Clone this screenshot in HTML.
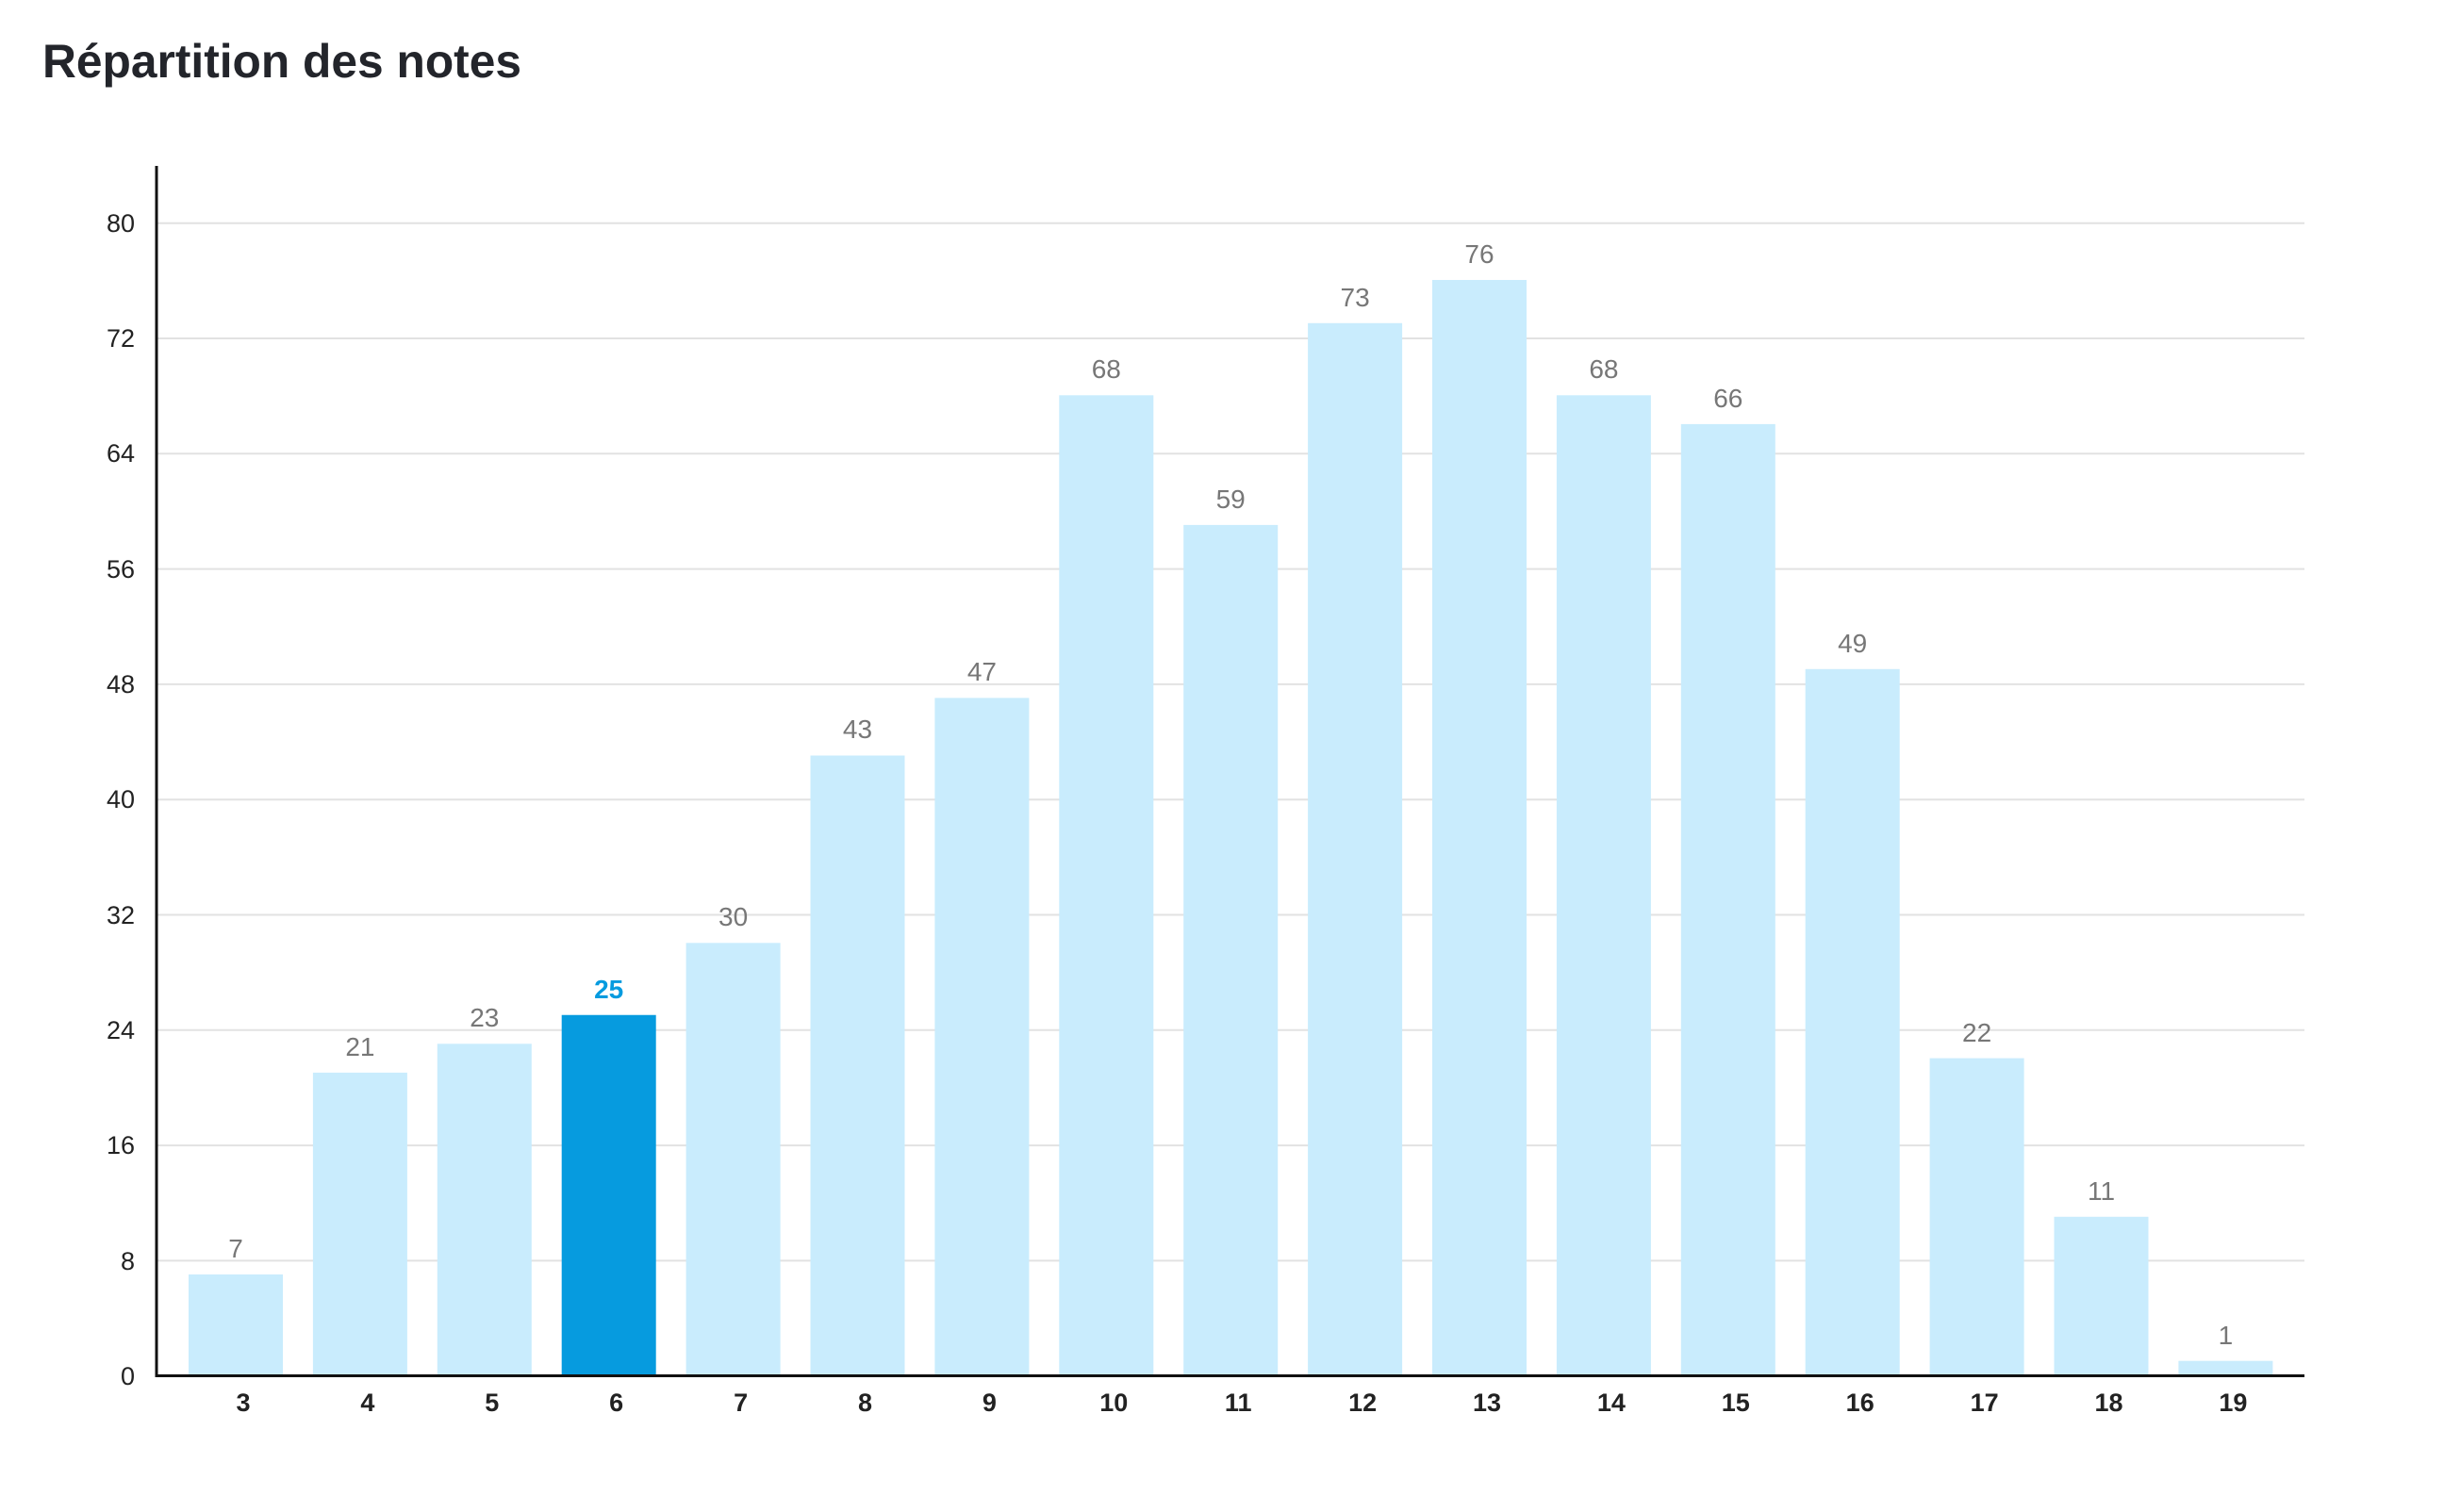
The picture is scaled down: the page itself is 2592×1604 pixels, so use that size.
<!DOCTYPE html>
<html><head><meta charset="utf-8"><style>
html,body{margin:0;padding:0;background:#fff;}
svg{display:block;font-family:"Liberation Sans",sans-serif;}
</style></head><body>
<svg width="2592" height="1604" viewBox="0 0 2592 1604" xmlns="http://www.w3.org/2000/svg">
<text x="45" y="82" font-size="50" font-weight="bold" fill="#23252b" textLength="508" lengthAdjust="spacingAndGlyphs">Répartition des notes</text>
<g stroke="#e2e2e2" stroke-width="2">
<line x1="166" x2="2444" y1="236.7" y2="236.7"/>
<line x1="166" x2="2444" y1="359" y2="359"/>
<line x1="166" x2="2444" y1="481.3" y2="481.3"/>
<line x1="166" x2="2444" y1="603.6" y2="603.6"/>
<line x1="166" x2="2444" y1="725.9" y2="725.9"/>
<line x1="166" x2="2444" y1="848.2" y2="848.2"/>
<line x1="166" x2="2444" y1="970.5" y2="970.5"/>
<line x1="166" x2="2444" y1="1092.8" y2="1092.8"/>
<line x1="166" x2="2444" y1="1215.1" y2="1215.1"/>
<line x1="166" x2="2444" y1="1337.4" y2="1337.4"/>
</g>
<g font-size="27" fill="#222" text-anchor="end">
<text x="143" y="246">80</text><text x="143" y="368">72</text><text x="143" y="490">64</text><text x="143" y="613">56</text><text x="143" y="735">48</text><text x="143" y="857">40</text><text x="143" y="980">32</text><text x="143" y="1102">24</text><text x="143" y="1224">16</text><text x="143" y="1347">8</text><text x="143" y="1469">0</text>
</g>
<g fill="#c9ecfd">
<rect x="200" y="1352" width="100" height="107"/>
<rect x="331.9" y="1137.9" width="100" height="321.1"/>
<rect x="463.8" y="1107.3" width="100" height="351.7"/>
<rect x="595.7" y="1076.75" width="100" height="382.25" fill="#069bdf"/>
<rect x="727.6" y="1000.3" width="100" height="458.7"/>
<rect x="859.5" y="801.5" width="100" height="657.5"/>
<rect x="991.4" y="740.4" width="100" height="718.6"/>
<rect x="1123.3" y="419.3" width="100" height="1039.7"/>
<rect x="1255.2" y="556.9" width="100" height="902.1"/>
<rect x="1387.1" y="342.8" width="100" height="1116.2"/>
<rect x="1519" y="297" width="100" height="1162"/>
<rect x="1650.9" y="419.3" width="100" height="1039.7"/>
<rect x="1782.8" y="449.9" width="100" height="1009.1"/>
<rect x="1914.7" y="709.8" width="100" height="749.2"/>
<rect x="2046.6" y="1122.6" width="100" height="336.4"/>
<rect x="2178.5" y="1290.8" width="100" height="168.2"/>
<rect x="2310.4" y="1443.7" width="100" height="15.3"/>
</g>
<g font-size="28" fill="#777" text-anchor="middle">
<text x="250" y="1334">7</text>
<text x="381.9" y="1120">21</text>
<text x="513.8" y="1089">23</text>
<text x="645.7" y="1059" font-weight="bold" fill="#069bdf">25</text>
<text x="777.6" y="982">30</text>
<text x="909.5" y="783">43</text>
<text x="1041.4" y="722">47</text>
<text x="1173.3" y="401">68</text>
<text x="1305.2" y="539">59</text>
<text x="1437.1" y="325">73</text>
<text x="1569" y="279">76</text>
<text x="1700.9" y="401">68</text>
<text x="1832.8" y="432">66</text>
<text x="1964.7" y="692">49</text>
<text x="2096.6" y="1105">22</text>
<text x="2228.5" y="1273">11</text>
<text x="2360.4" y="1426">1</text>
</g>
<g font-size="27" font-weight="bold" fill="#222" text-anchor="middle" transform="translate(8,0)">
<text x="250" y="1497">3</text>
<text x="381.9" y="1497">4</text>
<text x="513.8" y="1497">5</text>
<text x="645.7" y="1497">6</text>
<text x="777.6" y="1497">7</text>
<text x="909.5" y="1497">8</text>
<text x="1041.4" y="1497">9</text>
<text x="1173.3" y="1497">10</text>
<text x="1305.2" y="1497">11</text>
<text x="1437.1" y="1497">12</text>
<text x="1569" y="1497">13</text>
<text x="1700.9" y="1497">14</text>
<text x="1832.8" y="1497">15</text>
<text x="1964.7" y="1497">16</text>
<text x="2096.6" y="1497">17</text>
<text x="2228.5" y="1497">18</text>
<text x="2360.4" y="1497">19</text>
</g>
<line x1="166" x2="166" y1="176" y2="1461" stroke="#111" stroke-width="3"/>
<line x1="165" x2="2444" y1="1459.5" y2="1459.5" stroke="#111" stroke-width="3"/>
</svg>
</body></html>
